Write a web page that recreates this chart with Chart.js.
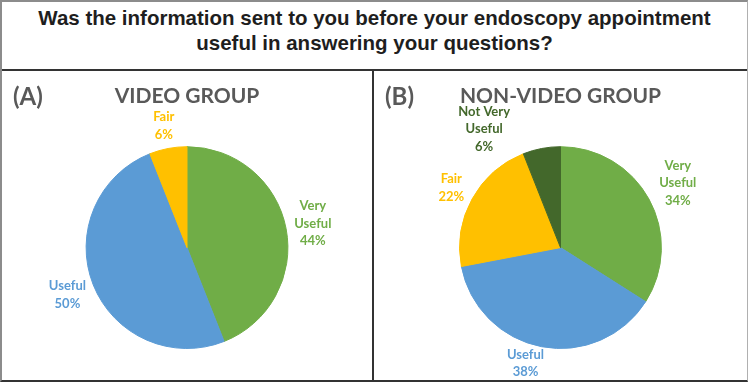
<!DOCTYPE html>
<html>
<head>
<meta charset="utf-8">
<script src="https://cdn.jsdelivr.net/npm/chart.js@4/dist/chart.umd.min.js"></script>
<style>
  body { margin: 0; background: #fff; }
  #frame {
    position: absolute; left: 0; top: 0; width: 748px; height: 382px;
    box-sizing: border-box;
    border-top: 2px solid #8c8c8c; border-left: 2px solid #8c8c8c;
    border-right: 1px solid #b0b0b0; border-bottom: 2px solid #333;
  }
  #title {
    position: absolute; left: 0; top: 0; width: 745px; height: 69px;
    border-bottom: 2px solid #333; box-sizing: border-box;
    font: bold 20.5px "Liberation Sans", Arial, sans-serif; color: #1e1e1e;
    text-align: center; line-height: 25px; padding-top: 3px;
  }
  .panel { position: absolute; top: 69px; height: 309px; }
  #panelA { left: 0; width: 370px; border-right: 2px solid #333; }
  #panelB { left: 372px; width: 373px; }
  .tag {
    position: absolute; left: 11px; top: 10px;
    font: bold 24px Lato, sans-serif; color: #595959;
  }
</style>
</head>
<body>
<div id="frame">
  <div id="title">Was the information sent to you before your endoscopy appointment<br>useful in answering your questions?</div>
  <div class="panel" id="panelA"><canvas id="pieA" width="370" height="309"></canvas><div class="tag">(A)</div></div>
  <div class="panel" id="panelB"><canvas id="pieB" width="373" height="309"></canvas><div class="tag">(B)</div></div>
</div>
<script>
// categories, clockwise from 12 o'clock
const categoriesA = ['Very\nUseful', 'Useful', 'Fair'];
const valuesA = [44, 50, 6];
const categoriesB = ['Very\nUseful', 'Useful', 'Fair', 'Not Very\nUseful'];
const valuesB = [34, 38, 22, 6];

const colorsA = ['#70AD47', '#5B9BD5', '#FFC000'];
const colorsB = ['#70AD47', '#5B9BD5', '#FFC000', '#43682B'];

// labels outside each slice, like excel's "outside end"
// nudge: index -> [extra angle in degrees, extra distance in px]
const outsideLabels = {
    id: 'outsideLabels',
    afterDatasetsDraw(chart, args, opts) {
        const ctx = chart.ctx;
        const meta = chart.getDatasetMeta(0);
        const ds = chart.data.datasets[0];
        const lineH = 17.5;
        ctx.save();
        ctx.font = 'bold 13px Lato, sans-serif';
        ctx.textAlign = 'center';
        ctx.textBaseline = 'middle';
        meta.data.forEach((arc, i) => {
            const lines = chart.data.labels[i].split('\n').concat([ds.data[i] + '%']);
            const n = (opts.nudge && opts.nudge[i]) || [0, 0];
            const mid = (arc.startAngle + arc.endAngle) / 2 + n[0] * Math.PI / 180;
            const c = Math.cos(mid), s = Math.sin(mid);
            const hw = Math.max(...lines.map(l => ctx.measureText(l).width)) / 2;
            const hh = lines.length * lineH / 2;
            const dist = arc.outerRadius + 4 + n[1] + hw * Math.abs(c) + hh * Math.abs(s);
            const cx = arc.x + c * dist;
            const cy = arc.y + s * dist;
            ctx.fillStyle = ds.backgroundColor[i];
            lines.forEach((l, k) => {
                ctx.fillText(l, cx, cy - hh + lineH / 2 + k * lineH);
            });
        });
        ctx.restore();
    }
};

function makePie(canvasId, title, labels, values, colors, nudge) {
    new Chart(document.getElementById(canvasId).getContext('2d'), {
        type: 'pie',
        data: {
            labels: labels,
            datasets: [{
                data: values,
                backgroundColor: colors,
                borderColor: colors,
                borderWidth: 1
            }]
        },
        options: {
            responsive: false,
            animation: false,
            layout: { padding: { top: 0, bottom: 31, left: 10, right: 10 } },
            plugins: {
                legend: { display: false },
                tooltip: { enabled: false },
                title: {
                    display: true,
                    text: title,
                    color: '#595959',
                    font: { family: 'Lato', size: 21, weight: 'bold', lineHeight: 1.2 },
                    padding: { top: 13, bottom: 37 }
                },
                outsideLabels: { nudge: nudge }
            }
        },
        plugins: [outsideLabels]
    });
}

makePie('pieA', 'VIDEO GROUP', categoriesA, valuesA, colorsA, {});
makePie('pieB', 'NON-VIDEO GROUP', categoriesB, valuesB, colorsB, { 1: [6, -6], 3: [-22, 0] });
</script>
</body>
</html>
